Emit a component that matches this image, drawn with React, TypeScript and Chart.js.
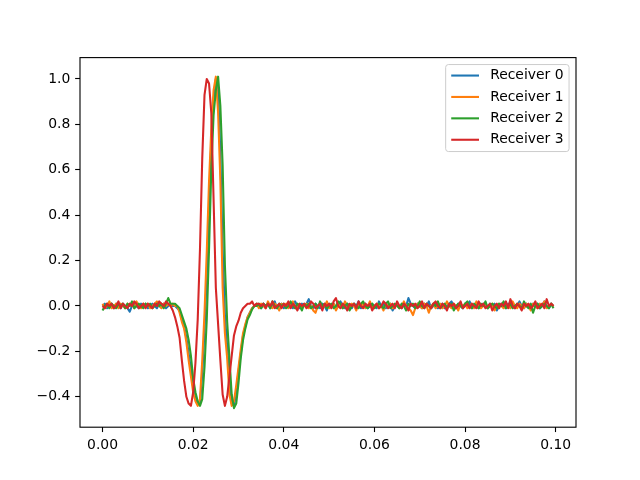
import { useEffect, useRef } from "react";
import { Chart, registerables } from "chart.js";

Chart.register(...registerables);

const seriesLabels = ["Receiver 0", "Receiver 1", "Receiver 2", "Receiver 3"];
const seriesColors = ["#1f77b4", "#ff7f0e", "#2ca02c", "#d62728"];

// sample grid: 0 .. 0.0995 s, 0.5 ms spacing
const sampleCount = 200;
const sampleStep = 0.0005;
const time = Array.from({ length: sampleCount }, (_, i) => +(i * sampleStep).toFixed(4));

const receiver0 = [
  0.00, 0.01, -0.01, 0.00, 0.01, -0.01, 0.01, 0.00, -0.01, 0.01,
  0.00, -0.01, -0.025, 0.00, 0.01, 0.00, -0.01, 0.01, 0.00, 0.01,
  -0.01, 0.00, 0.01, 0.00, -0.01, 0.01, 0.00, 0.01, -0.01, 0.00,
  0.01, 0.00, 0.00, -0.01, -0.02, -0.06, -0.09, -0.14, -0.21, -0.28,
  -0.36, -0.41, -0.43, -0.43, -0.30, -0.11, 0.14, 0.44, 0.72, 0.91,
  1.00, 0.95, 0.67, 0.25, -0.04, -0.18, -0.33, -0.43, -0.44, -0.38,
  -0.29, -0.21, -0.13, -0.09, -0.05, -0.03, -0.01, 0.00, 0.01, 0.00,
  -0.01, 0.01, 0.00, 0.01, -0.01, 0.00, 0.02, -0.01, 0.00, 0.01,
  -0.01, 0.00, 0.01, 0.00, -0.01, 0.02, 0.00, -0.01, 0.01, 0.00,
  0.01, 0.03, 0.00, -0.01, 0.01, 0.00, -0.01, 0.01, 0.00, -0.02,
  0.01, 0.00, 0.01, -0.01, 0.00, 0.02, 0.00, -0.01, 0.01, 0.00,
  -0.01, 0.01, 0.00, 0.02, -0.01, 0.00, 0.01, -0.01, 0.00, 0.01,
  0.00, -0.01, 0.02, 0.00, 0.01, -0.01, 0.00, 0.01, -0.02, 0.00,
  0.01, 0.00, -0.01, 0.01, 0.00, 0.035, 0.01, 0.00, -0.01, 0.01,
  0.00, -0.01, 0.01, 0.00, 0.02, -0.01, 0.00, 0.01, -0.01, 0.00,
  0.01, -0.01, 0.00, 0.01, 0.02, 0.00, -0.01, 0.01, 0.00, -0.01,
  0.01, 0.00, 0.02, -0.01, 0.00, 0.01, -0.01, 0.00, 0.01, 0.00,
  -0.01, 0.01, 0.00, 0.01, -0.02, 0.00, 0.01, 0.00, -0.01, 0.01,
  0.00, 0.01, -0.01, 0.00, 0.02, 0.00, -0.01, 0.01, 0.00, -0.01,
  0.01, 0.00, 0.01, -0.01, 0.00, 0.02, 0.00, -0.01, 0.01, 0.00,
];

const receiver1 = [
  0.01, -0.01, 0.00, 0.02, -0.01, 0.00, 0.01, -0.01, 0.01, 0.00,
  -0.01, 0.01, 0.00, 0.01, -0.01, 0.02, 0.00, -0.01, 0.01, 0.00,
  0.01, -0.01, 0.00, 0.01, 0.02, 0.00, -0.01, 0.01, 0.00, 0.01,
  0.00, 0.01, 0.00, 0.00, -0.03, -0.07, -0.10, -0.16, -0.24, -0.31,
  -0.38, -0.42, -0.44, -0.41, -0.24, -0.03, 0.24, 0.55, 0.78, 0.95,
  1.01, 0.85, 0.55, 0.08, -0.12, -0.23, -0.39, -0.44, -0.42, -0.35,
  -0.27, -0.19, -0.12, -0.08, -0.05, -0.03, -0.01, 0.00, 0.01, -0.01,
  0.01, 0.00, -0.01, 0.02, 0.00, -0.01, 0.01, 0.00, -0.02, 0.01,
  0.00, 0.01, -0.01, 0.00, 0.02, -0.01, 0.00, 0.01, -0.01, 0.00,
  0.01, -0.01, 0.00, -0.02, -0.03, 0.00, 0.01, -0.01, 0.00, 0.02,
  -0.01, 0.00, 0.01, -0.02, 0.00, 0.01, -0.01, 0.02, 0.00, -0.01,
  0.01, 0.00, -0.02, 0.01, 0.00, 0.01, -0.01, 0.00, 0.02, -0.01,
  0.00, 0.01, -0.01, 0.00, -0.02, 0.01, 0.00, 0.01, -0.01, 0.00,
  0.01, -0.01, 0.00, 0.02, 0.00, -0.01, -0.02, -0.04, -0.01, 0.01,
  0.00, -0.01, 0.01, 0.00, -0.03, 0.00, 0.01, -0.01, 0.00, 0.01,
  -0.01, 0.00, 0.02, 0.00, -0.01, 0.01, 0.00, -0.02, 0.01, 0.00,
  0.01, -0.01, 0.00, 0.01, -0.01, 0.02, 0.00, -0.01, 0.00, 0.01,
  -0.01, 0.00, 0.01, -0.02, 0.00, 0.01, 0.00, -0.01, 0.01, 0.00,
  -0.01, 0.02, 0.00, -0.01, 0.01, 0.00, -0.01, 0.01, 0.00, -0.02,
  0.01, 0.00, -0.01, 0.01, 0.00, 0.02, -0.01, 0.00, 0.01, 0.00,
];

const receiver2 = [
  -0.02, 0.00, 0.01, -0.01, 0.01, 0.00, -0.01, 0.01, 0.00, 0.01,
  -0.01, 0.01, 0.00, 0.02, -0.01, 0.00, 0.01, 0.00, -0.01, 0.01,
  0.00, 0.01, -0.01, 0.00, 0.01, 0.00, 0.01, -0.01, 0.01, 0.035,
  0.01, 0.01, 0.01, 0.00, -0.01, -0.04, -0.07, -0.10, -0.15, -0.22,
  -0.32, -0.38, -0.42, -0.44, -0.41, -0.27, -0.06, 0.25, 0.60, 0.84,
  0.95, 1.01, 0.88, 0.62, 0.18, -0.07, -0.23, -0.39, -0.45, -0.43,
  -0.34, -0.23, -0.15, -0.10, -0.06, -0.04, -0.015, 0.00, 0.00, 0.01,
  -0.01, 0.01, 0.00, 0.01, -0.01, 0.02, 0.00, -0.01, 0.01, 0.00,
  0.01, -0.01, 0.00, 0.02, 0.00, -0.01, 0.01, 0.00, -0.02, 0.01,
  0.00, 0.01, -0.01, 0.00, 0.01, -0.01, 0.02, 0.00, 0.01, -0.01,
  0.00, 0.01, -0.01, 0.00, 0.02, 0.01, -0.01, 0.00, 0.01, -0.02,
  0.00, 0.01, 0.00, -0.01, 0.01, 0.02, 0.00, -0.01, 0.00, 0.01,
  -0.01, 0.00, 0.01, 0.00, -0.01, 0.01, 0.02, -0.01, 0.00, 0.01,
  0.00, -0.01, 0.01, 0.00, -0.02, 0.01, 0.00, 0.01, -0.01, 0.00,
  0.02, 0.00, -0.01, 0.01, 0.00, -0.01, 0.01, 0.00, 0.02, -0.01,
  0.00, 0.01, -0.01, 0.00, 0.01, -0.02, 0.00, 0.01, 0.00, -0.01,
  0.01, 0.02, 0.00, -0.01, 0.01, 0.00, -0.01, 0.01, 0.00, 0.02,
  -0.01, 0.00, 0.01, 0.00, -0.01, 0.01, 0.00, 0.02, -0.01, 0.00,
  0.01, -0.01, 0.00, 0.01, 0.00, -0.01, 0.02, 0.00, -0.01, 0.01,
  -0.03, 0.00, 0.01, -0.01, 0.00, 0.01, 0.00, -0.01, 0.01, -0.01,
];

const receiver3 = [
  0.00, -0.01, 0.01, 0.00, 0.01, -0.01, 0.00, 0.02, -0.01, 0.01,
  0.00, -0.01, 0.01, 0.00, 0.02, 0.01, -0.01, 0.00, 0.01, -0.01,
  0.01, 0.00, -0.01, 0.01, 0.00, 0.02, 0.01, 0.00, 0.02, 0.01,
  0.00, -0.02, -0.05, -0.09, -0.14, -0.24, -0.33, -0.40, -0.43, -0.44,
  -0.38, -0.25, -0.06, 0.25, 0.65, 0.93, 1.00, 0.98, 0.85, 0.47,
  0.08, -0.08, -0.24, -0.39, -0.44, -0.40, -0.31, -0.22, -0.13, -0.09,
  -0.065, -0.03, -0.01, 0.00, 0.01, 0.01, 0.02, 0.00, 0.01, 0.01,
  0.00, 0.01, -0.01, 0.01, 0.00, 0.02, -0.01, 0.00, 0.01, -0.01,
  0.01, 0.00, 0.02, -0.01, 0.01, 0.00, -0.02, 0.01, 0.00, 0.01,
  -0.01, 0.00, 0.02, 0.01, -0.01, 0.00, 0.01, -0.02, 0.01, 0.00,
  0.01, -0.01, 0.02, 0.035, 0.00, -0.01, 0.01, 0.00, -0.02, 0.01,
  0.00, 0.01, -0.01, 0.02, 0.00, -0.01, 0.01, 0.00, 0.01, -0.02,
  0.00, 0.01, -0.01, 0.00, 0.02, 0.01, -0.01, 0.00, 0.01, -0.01,
  0.02, 0.00, -0.01, 0.01, 0.00, -0.02, 0.01, 0.00, 0.01, -0.01,
  0.00, 0.02, -0.01, 0.01, 0.00, -0.01, 0.01, 0.02, 0.00, -0.01,
  0.01, 0.00, -0.02, 0.01, 0.00, 0.01, -0.01, 0.00, 0.02, -0.01,
  0.00, 0.01, -0.01, 0.01, 0.00, -0.01, 0.02, 0.00, 0.01, -0.01,
  0.00, 0.01, -0.02, 0.00, 0.01, -0.01, 0.01, 0.00, 0.02, -0.01,
  0.03, 0.00, -0.01, 0.01, 0.00, -0.02, 0.01, 0.00, 0.01, -0.01,
  0.00, 0.02, -0.01, 0.00, 0.01, -0.01, 0.03, 0.00, 0.01, 0.00,
];

const seriesValues = [receiver0, receiver1, receiver2, receiver3];

const xTicks = [0, 0.02, 0.04, 0.06, 0.08, 0.1];
const yTicks = [-0.4, -0.2, 0, 0.2, 0.4, 0.6, 0.8, 1.0];
const xRange = [-0.004975, 0.104475];
const yRange = [-0.534, 1.094];

const FONT = "'DejaVu Sans', sans-serif";
const FS = 13.9;
const PT = 100 / 72;

const framePlugin = {
  id: "frame",
  afterDatasetsDraw(chart: any) {
    const { ctx, chartArea: a } = chart;
    ctx.save();
    ctx.strokeStyle = "#000";
    ctx.lineWidth = 0.8 * PT;
    ctx.strokeRect(a.left, a.top, a.right - a.left, a.bottom - a.top);
    ctx.restore();
  },
};

const legendPlugin = {
  id: "mplLegend",
  afterDraw(chart: any) {
    const { ctx, chartArea: a } = chart;
    const ds = chart.data.datasets;
    ctx.save();
    ctx.font = `${FS}px ${FONT}`;
    let maxW = 0;
    ds.forEach((d: any) => {
      maxW = Math.max(maxW, ctx.measureText(d.label).width);
    });
    const pad = 0.4 * FS;
    const handle = 2.0 * FS;
    const textPad = 0.8 * FS;
    const rowH = 21.4;
    const w = pad + handle + textPad + maxW + pad;
    const h = 87;
    const right = a.right - 0.5 * FS;
    const top = a.top + 0.5 * FS;
    const left = right - w;
    const r = 2.8;
    ctx.beginPath();
    ctx.moveTo(left + r, top);
    ctx.lineTo(right - r, top);
    ctx.arcTo(right, top, right, top + r, r);
    ctx.lineTo(right, top + h - r);
    ctx.arcTo(right, top + h, right - r, top + h, r);
    ctx.lineTo(left + r, top + h);
    ctx.arcTo(left, top + h, left, top + h - r, r);
    ctx.lineTo(left, top + r);
    ctx.arcTo(left, top, left + r, top, r);
    ctx.closePath();
    ctx.fillStyle = "rgba(255,255,255,0.8)";
    ctx.fill();
    ctx.strokeStyle = "#cccccc";
    ctx.lineWidth = 1;
    ctx.stroke();
    ds.forEach((d: any, k: number) => {
      const cy = top + 11 + k * rowH;
      ctx.beginPath();
      ctx.strokeStyle = d.borderColor;
      ctx.lineWidth = 1.5 * PT;
      ctx.moveTo(left + pad, cy);
      ctx.lineTo(left + pad + handle, cy);
      ctx.stroke();
      ctx.fillStyle = "#000";
      ctx.textBaseline = "middle";
      ctx.textAlign = "left";
      ctx.fillText(d.label, left + pad + handle + textPad, cy);
    });
    ctx.restore();
  },
};

function fmtY(v: number) {
  const s = Math.abs(v).toFixed(1);
  return v < -1e-9 ? "\u2212" + s : s;
}

export default function App() {
  const ref = useRef<HTMLCanvasElement | null>(null);
  useEffect(() => {
    if (!ref.current) return;
    const datasets = seriesValues.map((vals, k) => ({
      label: seriesLabels[k],
      data: vals.map((y, i) => ({ x: time[i], y })),
      borderColor: seriesColors[k],
      backgroundColor: seriesColors[k],
      borderWidth: 1.5 * PT,
      borderJoinStyle: "round" as const,
      borderCapStyle: "butt" as const,
      pointRadius: 0,
      tension: 0,
      fill: false,
      order: seriesValues.length - 1 - k,
    }));
    const tickFont = { family: FONT, size: FS };
    const tickGrid = {
      display: true,
      drawOnChartArea: false,
      drawTicks: true,
      tickLength: 3.5 * PT,
      tickColor: "#000",
      tickWidth: 0.8 * PT,
    };
    const chart = new Chart(ref.current, {
      type: "line",
      data: { datasets },
      options: {
        responsive: false,
        animation: false,
        devicePixelRatio: 1,
        layout: { padding: { top: 57.6, right: 64, left: 0, bottom: 0 } },
        plugins: { legend: { display: false }, tooltip: { enabled: false } },
        scales: {
          x: {
            type: "linear",
            min: xRange[0],
            max: xRange[1],
            afterBuildTicks: (s: any) => {
              s.ticks = xTicks.map((v) => ({ value: v }));
            },
            afterFit: (s: any) => {
              s.height = 52.8;
            },
            ticks: {
              color: "#000",
              font: tickFont,
              padding: 3.5 * PT,
              maxRotation: 0,
              autoSkip: false,
              callback: (v: any) => Number(v).toFixed(2),
            },
            grid: tickGrid,
            border: { display: false },
          },
          y: {
            type: "linear",
            min: yRange[0],
            max: yRange[1],
            afterBuildTicks: (s: any) => {
              s.ticks = yTicks.map((v) => ({ value: v }));
            },
            afterFit: (s: any) => {
              s.width = 80;
            },
            ticks: {
              color: "#000",
              font: tickFont,
              padding: 3.5 * PT,
              autoSkip: false,
              callback: (v: any) => fmtY(Number(v)),
            },
            grid: tickGrid,
            border: { display: false },
          },
        },
      },
      plugins: [framePlugin, legendPlugin],
    });
    return () => chart.destroy();
  }, []);
  return (
    <div style={{ position: "fixed", left: 0, top: 0, width: 640, height: 480, background: "#fff" }}>
      <canvas ref={ref} width={640} height={480} style={{ width: 640, height: 480 }} />
    </div>
  );
}
